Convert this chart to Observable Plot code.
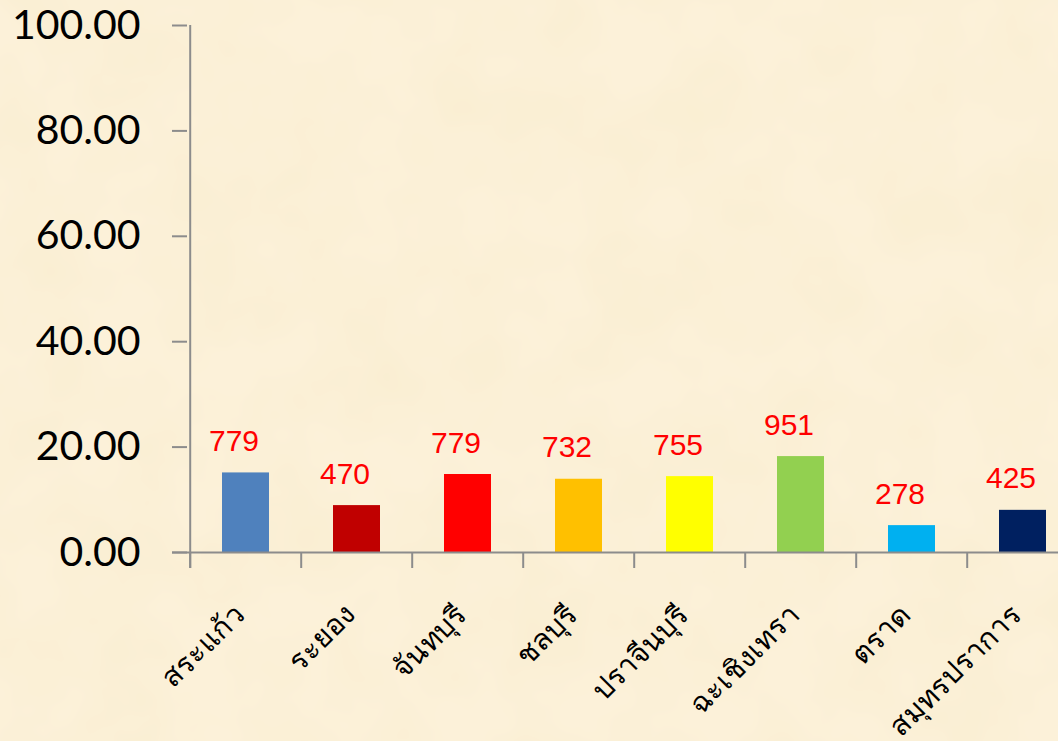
<!DOCTYPE html>
<html><head><meta charset="utf-8">
<script src="https://cdn.jsdelivr.net/npm/d3@7"></script>
<script src="https://cdn.jsdelivr.net/npm/@observablehq/plot@0.6"></script>
<style>
html,body{margin:0;padding:0;overflow:hidden;width:1058px;height:741px;}
body{background-color:#fcf1d9;background-image:url("data:image/svg+xml;utf8,<svg xmlns='http://www.w3.org/2000/svg' width='1058' height='741'><filter id='n'><feTurbulence type='fractalNoise' baseFrequency='0.012' numOctaves='3' seed='7'/><feColorMatrix values='0 0 0 0 0.85  0 0 0 0 0.75  0 0 0 0 0.45  0 0 0 0.28 -0.08'/></filter><rect width='100%25' height='100%25' filter='url(%23n)'/></svg>");}
</style></head><body><div id="chart"></div>
<script>
const provinces = ["สระแก้ว","ระยอง","จันทบุรี","ชลบุรี","ปราจีนบุรี","ฉะเชิงเทรา","ตราด","สมุทรปราการ"];
const rates = [15.1, 8.9, 14.8, 13.9, 14.4, 18.2, 5.1, 8.0];
const counts = [779, 470, 779, 732, 755, 951, 278, 425];
const colors = ["#4f81bd","#c00000","#ff0000","#ffc000","#ffff00","#92d050","#00b0f0","#002060"];
const yTicks = [0, 20, 40, 60, 80, 100];

const data = provinces.map((p, i) => ({province: p, rate: rates[i], count: counts[i]}));
const W = 1058, H = 741, mL = 187, mT = 25, mB = 189;
const step = 111.6;
const xRange = [mL, mL + step * provinces.length];
const axisColor = "#8c8c8c";

const plot = Plot.plot({
  width: W, height: H, marginLeft: mL, marginTop: mT, marginBottom: mB, marginRight: 0,
  style: {background: "transparent", fontFamily: "Lato", overflow: "visible"},
  x: {domain: provinces, range: xRange, paddingInner: 0.58, paddingOuter: 0.29, axis: null},
  y: {domain: [0, 100], axis: null},
  color: {domain: provinces, range: colors},
  marks: [
    Plot.barY(data, {x: "province", y: "rate", fill: "province"}),
    Plot.ruleY([0], {stroke: axisColor, strokeWidth: 2, insetLeft: -15}),
    Plot.ruleX(provinces, {x: d => d, dx: -step / 2, y1: () => 0, y2: () => 0, insetBottom: -16, stroke: axisColor, strokeWidth: 2}),
    Plot.ruleX([provinces[0]], {x: d => d, dx: -step / 2, insetBottom: -16, stroke: axisColor, strokeWidth: 2}),
    Plot.axisY({ticks: yTicks, tickSize: 15, tickPadding: 32, tickFormat: d => d.toFixed(2), fontSize: 41, fontFamily: "Lato", fill: "black", stroke: axisColor, strokeWidth: 2, label: null}),
    Plot.text(data, {x: "province", y: "rate", text: d => String(d.count), dx: -12, dy: -22, lineAnchor: "bottom", fill: "#ff0000", fontSize: 30, fontFamily: "Liberation Sans"}),
    Plot.text(data, {x: "province", frameAnchor: "bottom", text: "province", rotate: -45, textAnchor: "end", dy: 64, fontSize: 29, fill: "black"})
  ]
});
document.getElementById("chart").appendChild(plot);
</script></body></html>
